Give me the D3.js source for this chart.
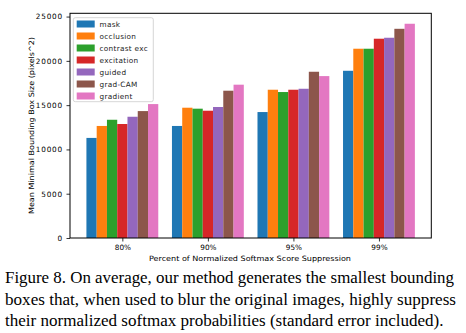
<!DOCTYPE html>
<html>
<head>
<meta charset="utf-8">
<script src="https://cdn.jsdelivr.net/npm/d3@7/dist/d3.min.js"></script>
<style>
  html, body { margin: 0; padding: 0; background: #fff; }
  svg { display: block; }
  .tick text { font-family: "DejaVu Sans", sans-serif; }
</style>
</head>
<body>
<svg id="chart" width="466" height="333"></svg>
<script>
// Suppression levels (x categories)
const categories = ["80%", "90%", "95%", "99%"];

// Mean minimal bounding box size (pixels^2) per method, one value per category
const mask        = [11300, 12650, 14220, 18880];
const occlusion   = [12650, 14710, 16740, 21370];
const contrastExc = [13350, 14600, 16480, 21370];
const excitation  = [12870, 14370, 16740, 22500];
const guided      = [13690, 14790, 16850, 22610];
const gradCAM     = [14330, 16630, 18770, 23620];
const gradient    = [15120, 17310, 18280, 24190];

const seriesNames = ["mask", "occlusion", "contrast exc", "excitation", "guided", "grad-CAM", "gradient"];
const seriesValues = [mask, occlusion, contrastExc, excitation, guided, gradCAM, gradient];
const colors = ["#1f77b4", "#ff7f0e", "#2ca02c", "#d62728", "#9467bd", "#8c564b", "#e377c2"];

const yTicks = [0, 5000, 10000, 15000, 20000, 25000];

const captionLines = [
  "Figure 8. On average, our method generates the smallest bounding",
  "boxes that, when used to blur the original images, highly suppress",
  "their normalized softmax probabilities (standard error included)."
];
const captionWidths = [449, 451, 438.5];

const svg = d3.select("#chart");
const plot = { left: 70, right: 431.3, top: 13.3, bottom: 238 };
const barW = 0.12;

const x = d3.scaleLinear().domain([-0.612, 3.612]).range([plot.left, plot.right]);
const y = d3.scaleLinear().domain([0, 25370]).range([plot.bottom, plot.top]);

const font = "DejaVu Sans, sans-serif";
const fs = 7.3;

// Bars
seriesValues.forEach((vals, s) => {
  svg.append("g").selectAll("rect").data(vals).join("rect")
    .attr("x", (d, i) => x(i + (s - 3) * barW - barW / 2))
    .attr("width", x(barW) - x(0))
    .attr("y", d => y(d))
    .attr("height", d => y(0) - y(d))
    .attr("fill", colors[s]);
});

// Axes
const yAxis = d3.axisLeft(y).tickValues(yTicks).tickSize(3.5).tickPadding(3.5).tickFormat(d3.format("d"));
const gy = svg.append("g").attr("transform", `translate(${plot.left},0)`).call(yAxis);
gy.select(".domain").remove();
gy.selectAll(".tick line").attr("stroke", "#000").attr("stroke-width", 0.8);
gy.selectAll(".tick text").attr("font-size", fs).attr("fill", "#000").attr("letter-spacing", 0.8);

const xAxis = d3.axisBottom(x).tickValues(d3.range(categories.length))
  .tickFormat(i => categories[i]).tickSize(3.5).tickPadding(3.5);
const gx = svg.append("g").attr("transform", `translate(0,${plot.bottom})`).call(xAxis);
gx.select(".domain").remove();
gx.selectAll(".tick line").attr("stroke", "#000").attr("stroke-width", 0.8);
gx.selectAll(".tick text").attr("font-size", fs).attr("fill", "#000");

// Frame
svg.append("rect")
  .attr("x", plot.left).attr("y", plot.top)
  .attr("width", plot.right - plot.left).attr("height", plot.bottom - plot.top)
  .attr("fill", "none").attr("stroke", "#000").attr("stroke-width", 1);

// Axis titles
svg.append("text")
  .attr("x", 250).attr("y", 261.3)
  .attr("text-anchor", "middle").attr("font-family", font).attr("font-size", fs)
  .attr("textLength", 202).attr("lengthAdjust", "spacingAndGlyphs")
  .text("Percent of Normalized Softmax Score Suppression");

svg.append("text")
  .attr("transform", `translate(34,125.5) rotate(-90)`)
  .attr("text-anchor", "middle").attr("font-family", font).attr("font-size", fs)
  .attr("textLength", 177).attr("lengthAdjust", "spacingAndGlyphs")
  .text("Mean Minimal Bounding Box Size (pixels^2)");

// Legend
const lg = svg.append("g");
lg.append("rect")
  .attr("x", 73.3).attr("y", 17.7).attr("width", 80).attr("height", 84)
  .attr("rx", 2).attr("fill", "#fff").attr("fill-opacity", 0.8)
  .attr("stroke", "#ccc").attr("stroke-width", 0.8);
seriesNames.forEach((name, s) => {
  const cy = 24 + s * 12;
  lg.append("rect").attr("x", 76.7).attr("y", cy - 3.5).attr("width", 18).attr("height", 7).attr("fill", colors[s]);
  lg.append("text").attr("x", 99.5).attr("y", cy + 2.6)
    .attr("font-family", font).attr("font-size", fs).attr("fill", "#222")
    .attr("letter-spacing", 0.3).text(name);
});

// Caption
svg.append("g").selectAll("text").data(captionLines).join("text")
  .attr("x", 5).attr("y", (d, i) => 283.3 + i * 21.5)
  .attr("font-family", "Liberation Serif, Times New Roman, serif")
  .attr("font-size", 16.6).attr("fill", "#000")
  .attr("textLength", (d, i) => captionWidths[i]).attr("lengthAdjust", "spacingAndGlyphs")
  .text(d => d);
</script>
</body>
</html>
